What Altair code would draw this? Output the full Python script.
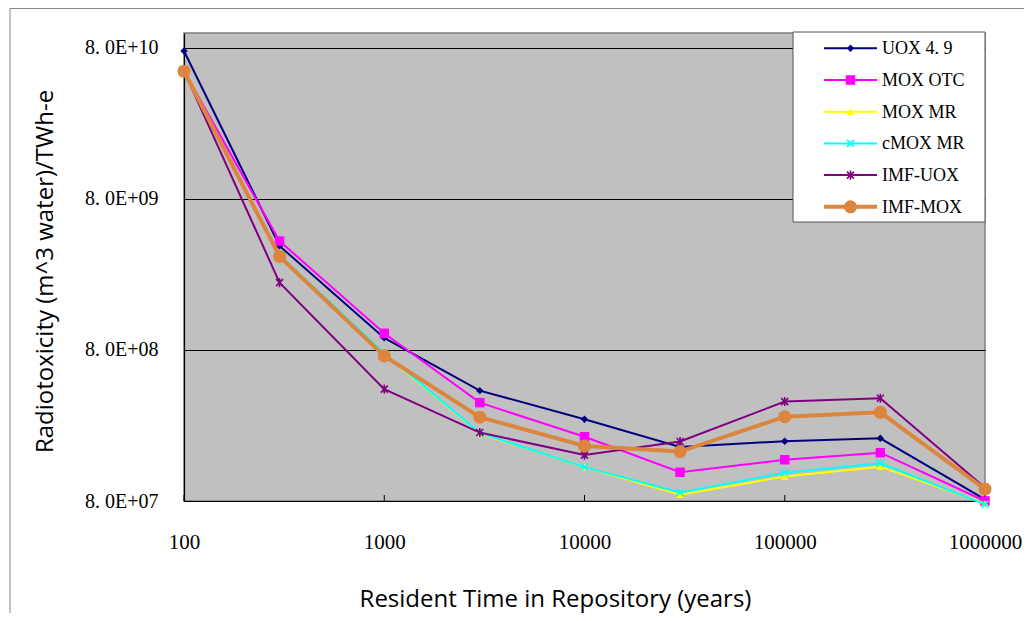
import altair as alt
import pandas as pd

# ---------------- data ----------------
years = [100, 300, 1000, 3000, 10000, 30000, 100000, 300000, 1000000]
x_tick_values = [100, 1000, 10000, 100000, 1000000]
y_tick_values = [8e7, 8e8, 8e9, 8e10]
y_tick_labels = ["8. 0E+07", "8. 0E+08", "8. 0E+09", "8. 0E+10"]

series_names = ["UOX 4. 9", "MOX OTC", "MOX MR", "cMOX MR", "IMF-UOX", "IMF-MOX"]
uox_49 = [7.6e10, 3.9e9, 9.6e8, 4.3e8, 2.78e8, 1.82e8, 1.99e8, 2.08e8, 8.2e7]
mox_otc = [5.6e10, 4.2e9, 1.03e9, 3.58e8, 2.13e8, 1.24e8, 1.50e8, 1.67e8, 8.0e7]
mox_mr = [5.5e10, 3.36e9, 7.5e8, 2.24e8, 1.34e8, 8.8e7, 1.16e8, 1.35e8, 7.7e7]
cmox_mr = [5.5e10, 3.40e9, 7.6e8, 2.26e8, 1.34e8, 9.1e7, 1.23e8, 1.42e8, 7.6e7]
imf_uox = [5.6e10, 2.23e9, 4.4e8, 2.27e8, 1.61e8, 1.98e8, 3.64e8, 3.83e8, 9.8e7]
imf_mox = [5.58e10, 3.32e9, 7.3e8, 2.87e8, 1.85e8, 1.70e8, 2.89e8, 3.09e8, 9.6e7]
series_values = [uox_49, mox_otc, mox_mr, cmox_mr, imf_uox, imf_mox]

# ---------------- styles ----------------
colors = ["#000080", "#FF00FF", "#FFFF00", "#00FFFF", "#800080", "#DC853E"]
X_PATH = "M-1,-1L1,1M-1,1L1,-1"
AST_PATH = "M-1,-1L1,1M-1,1L1,-1M0,-1.3L0,1.3"
shapes = ["diamond", "square", "triangle-up", X_PATH, AST_PATH, "circle"]
filled = [True, True, True, False, False, True]
marker_sizes = [55, 90, 60, 49, 49, 170]
line_widths = [2, 2, 2, 2, 2, 4]

W, H = 801, 468
PAD = {"left": 176, "top": 25, "right": 39, "bottom": 112}
TITLE_FONT = "Open Sans"
TITLE_SIZE = 24

rows = []
for name, vals in zip(series_names, series_values):
    for yr, v in zip(years, vals):
        rows.append({"series": name, "year": yr, "value": v})
df = pd.DataFrame(rows)

x_scale = alt.Scale(type="log", domain=[100, 1000000], nice=False)
y_scale = alt.Scale(type="log", domain=[8e7, 1e11], nice=False)

label_expr = "[" + ",".join("'%s'" % s for s in y_tick_labels) + "][round(log(datum.value/%s)/LN10)]" % int(y_tick_values[0])

x_axis = alt.Axis(
    values=x_tick_values, format="d", title="Resident Time in Repository (years)",
    grid=False, ticks=False, tickSize=0, labelFont="Liberation Serif", labelFontSize=21,
    labelColor="black", labelPadding=41, labelBaseline="middle", labelFlush=False,
    labelOverlap=False, domainColor="black", domainWidth=1.2,
    titleFont=TITLE_FONT, titleFontSize=TITLE_SIZE, titleFontWeight="normal", titleColor="black",
    titleX=371, titleY=105, titleBaseline="alphabetic",
)
y_axis = alt.Axis(
    values=y_tick_values, labelExpr=label_expr, title="Radiotoxicity (m^3 water)/TWh-e",
    grid=True, gridColor="black", gridWidth=1, gridOpacity=1, ticks=False, tickSize=0,
    labelFont="Liberation Serif", labelFontSize=20, labelPadding=26, labelColor="black",
    labelOverlap=False, domainColor="black", domainWidth=1.2,
    titleFont=TITLE_FONT, titleFontSize=TITLE_SIZE, titleFontWeight="normal", titleColor="black",
    titleX=-139, titleY=238, titleBaseline="middle",
)

X = alt.X("year:Q", scale=x_scale, axis=x_axis)
Y = alt.Y("value:Q", scale=y_scale, axis=y_axis)

base = alt.Chart(df)
layers = []

# inward tick marks on x axis
tick_df = pd.DataFrame({"year": x_tick_values})
layers.append(
    alt.Chart(tick_df).mark_rule(color="black", strokeWidth=1).encode(
        x=X, y=alt.value(H - 6), y2=alt.value(H)
    )
)


def marker(i):
    if filled[i]:
        return dict(shape=shapes[i], filled=True, size=marker_sizes[i], color=colors[i], opacity=1)
    return dict(shape=shapes[i], filled=False, size=marker_sizes[i], color=colors[i],
                strokeWidth=1.6, opacity=1)


for i, name in enumerate(series_names):
    sub = base.transform_filter(alt.datum.series == name)
    layers.append(sub.mark_line(color=colors[i], strokeWidth=line_widths[i]).encode(x=X, y=Y))
    layers.append(sub.mark_point(**marker(i)).encode(x=X, y=Y))

# legend (drawn manually: line + marker + label)
one = alt.Data(values=[{"k": 1}])
LX0, LX1, LY0 = 609, 801, -1
layers.append(
    alt.Chart(one).mark_rect(fill="white", stroke="#555555", strokeWidth=1).encode(
        x=alt.value(LX0), x2=alt.value(LX1), y=alt.value(LY0), y2=alt.value(189)
    )
)
for i, name in enumerate(series_names):
    ly = 15.3 + 31.7 * i
    layers.append(
        alt.Chart(one).mark_rule(color=colors[i], strokeWidth=line_widths[i]).encode(
            x=alt.value(640), x2=alt.value(693), y=alt.value(ly)
        )
    )
    layers.append(
        alt.Chart(one).mark_point(**marker(i)).encode(x=alt.value(666.5), y=alt.value(ly))
    )
    layers.append(
        alt.Chart(one).mark_text(align="left", baseline="middle", font="Liberation Serif",
                                 fontSize=18, color="black").encode(
            x=alt.value(698), y=alt.value(ly + 1), text=alt.value(name)
        )
    )

# outer chart-area border (top and left edges)
layers.append(
    alt.Chart(one).mark_rule(color="#888888", strokeWidth=1).encode(
        x=alt.value(-174), x2=alt.value(840), y=alt.value(-24.5)
    )
)
layers.append(
    alt.Chart(one).mark_rule(color="#888888", strokeWidth=1).encode(
        x=alt.value(-174), y=alt.value(-25), y2=alt.value(580)
    )
)

chart = alt.layer(*layers).properties(
    width=W, height=H,
    autosize=alt.AutoSizeParams(type="none"),
    padding=PAD,
    background="white",
).configure_view(fill="#C0C0C0", stroke="#808080", strokeWidth=1.5)

chart.save("out.html", embed_options={"renderer": "svg", "actions": False})
